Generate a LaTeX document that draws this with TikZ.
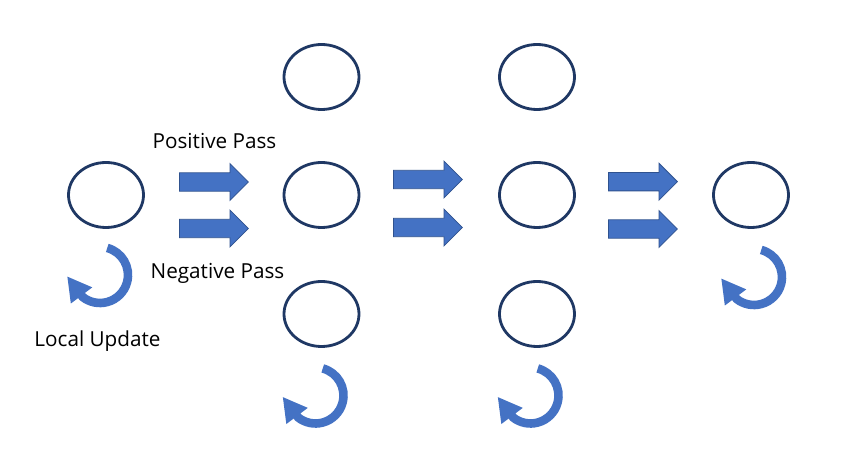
\documentclass[tikz,border=0pt]{standalone}
\usepackage{fontspec}
\setmainfont{Open Sans}
\usetikzlibrary{shapes.geometric,shapes.arrows,arrows.meta}
\definecolor{nodeline}{HTML}{1F3864}
\definecolor{passblue}{HTML}{4472C4}
\definecolor{passedge}{HTML}{2F528F}

\begin{document}
\begin{tikzpicture}[x=0.5pt,y=0.5pt, every node/.style={font=\fontsize{10.35}{12}\selectfont},
  unit/.style={ellipse, draw=nodeline, line width=1.4pt, minimum width=37.5pt, minimum height=32.5pt, inner sep=0pt},
  pass/.style={single arrow, fill=passblue, draw=passedge, line width=0.4pt, minimum height=34.5pt,
    inner xsep=0pt, inner ysep=4.4pt, single arrow head extend=4.6pt, single arrow tip angle=90, anchor=tail},
  update/.style={passblue, line width=4.3pt, -{Triangle[length=12pt,width=12.5pt]}}]
  \fill[white] (0,0) rectangle (842,466);
  \useasboundingbox (0,0) rectangle (842,466);

  % units
  \node[unit] (in) at (106,271) {};
  \foreach \x/\c in {321.5/a,537/b} {
    \node[unit] (\c1) at (\x,389) {};
    \node[unit] (\c2) at (\x,271) {};
    \node[unit] (\c3) at (\x,152) {};
  }
  \node[unit] (out) at (751,271) {};

  % passes
  \node[pass] (pos1) at (179,284) {};
  \node[pass] (neg1) at (179,237.5) {};
  \node[pass] (pos2) at (393,286.5) {};
  \node[pass] (neg2) at (393,238.5) {};
  \node[pass] (pos3) at (608,284.3) {};
  \node[pass] (neg3) at (608,237) {};

  \node[anchor=base] (postext) at (214.5,317.7) {Positive Pass};
  \node[anchor=base] (negtext) at (217.5,187.7) {Negative Pass};
  \node[anchor=base] (updtext) at (97.5,119.7) {Local Update};

  % local updates
  \coordinate (u0) at (100,191);
  \coordinate (ua) at (315.5,70.5);
  \coordinate (ub) at (530.5,70.5);
  \coordinate (u4) at (754,189);
  \foreach \u in {u0,ua,ub,u4} {
    \draw[update] (\u) ++(75:28) arc[start angle=75, end angle=-128, radius=28] -- ++(127:26);
  }
\end{tikzpicture}
\end{document}
